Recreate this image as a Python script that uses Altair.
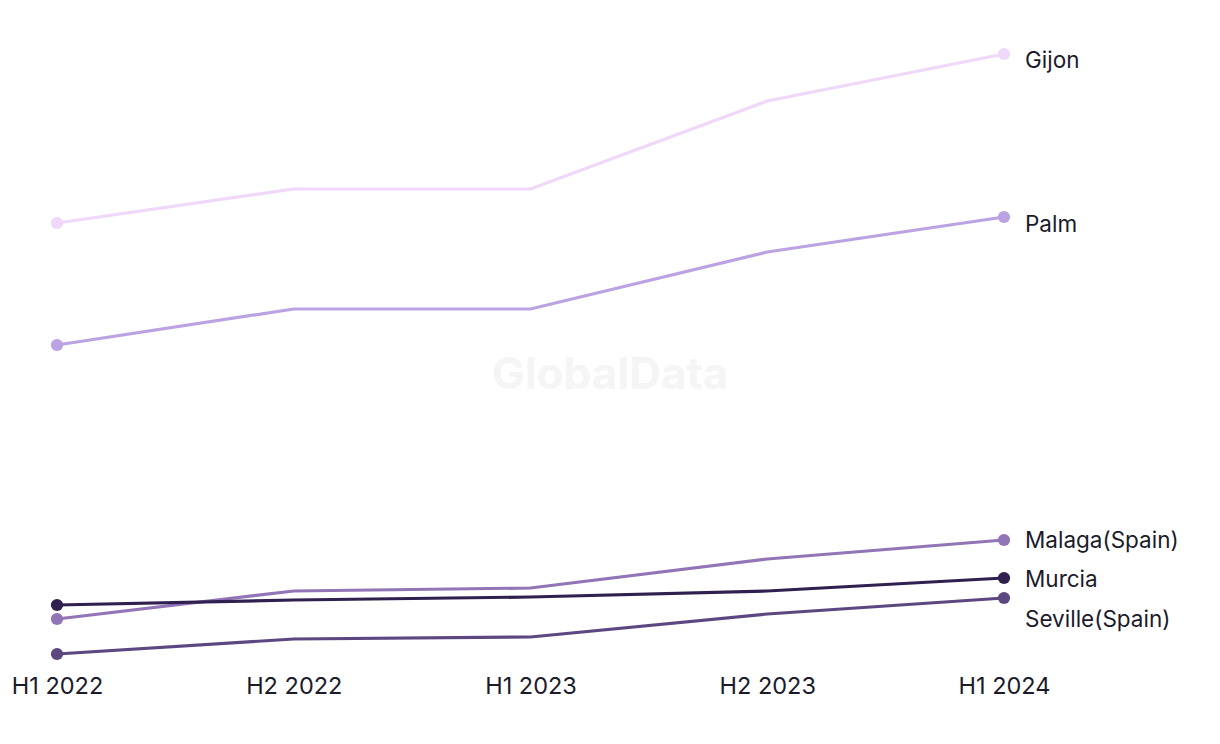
import altair as alt
import pandas as pd

periods = ["H1 2022", "H2 2022", "H1 2023", "H2 2023", "H1 2024"]
cities = ["Gijon", "Palm", "Malaga(Spain)", "Murcia", "Seville(Spain)"]
gijon = [47.7, 51.1, 51.1, 59.9, 64.6]
palm = [35.5, 39.1, 39.1, 44.8, 48.3]
malaga = [8.1, 10.9, 11.2, 14.1, 16.0]
murcia = [9.5, 10.0, 10.3, 10.9, 12.2]
seville = [4.6, 6.1, 6.3, 8.6, 10.2]
colors = ["#EFD8FA", "#BBA2E2", "#9175B7", "#30204F", "#5D4781"]
label_dy = [7, 8, 1, 2, 22]

series = [gijon, palm, malaga, murcia, seville]
rows = []
for c, vals in zip(cities, series):
    for p, v in zip(periods, vals):
        rows.append({"city": c, "period": p, "value": v})
df = pd.DataFrame(rows)
ends = df[df.period.isin([periods[0], periods[-1]])]

last = pd.DataFrame({
    "city": cities,
    "period": [periods[-1]] * len(cities),
    "value": [s[-1] for s in series],
})

x = alt.X("period:O", sort=periods,
          scale=alt.Scale(type="point", padding=0),
          axis=alt.Axis(title=None, labelAngle=0, domain=False, ticks=False,
                        grid=False, labelFontSize=23.5, labelColor="#1b1b2b",
                        labelFont="Inter", labelPadding=20))
y = alt.Y("value:Q", scale=alt.Scale(zero=False, nice=False, domain=[4.6, 64.6]),
          axis=None)
color = alt.Color("city:N", scale=alt.Scale(domain=cities, range=colors), legend=None)

watermark = alt.Chart(pd.DataFrame({"t": ["GlobalData"]})).mark_text(
    fontSize=44, fontWeight="bold", font="Inter", color="#f5f5f5"
).encode(text="t:N", x=alt.value(553), y=alt.value(322))

lines = alt.Chart(df).mark_line(strokeWidth=3.2).encode(x=x, y=y, color=color)
points = alt.Chart(ends).mark_circle(size=150, opacity=1).encode(x=x, y=y, color=color)

labels_parts = []
for c, d in zip(cities, label_dy):
    sub = last[last.city == c]
    labels_parts.append(
        alt.Chart(sub).mark_text(align="left", dx=21, dy=d, fontSize=22.5,
                                 font="Inter", color="#1b1b2b").encode(
            x=x, y=y, text="city:N")
    )

chart = alt.layer(watermark, lines, points, *labels_parts).properties(
    width=947, height=600,
    autosize=alt.AutoSizeParams(type="none"),
    padding={"left": 49, "top": 46, "right": 200, "bottom": 80},
).configure_view(stroke=None)

chart.save("out.html", embed_options={"renderer": "svg", "actions": False})
